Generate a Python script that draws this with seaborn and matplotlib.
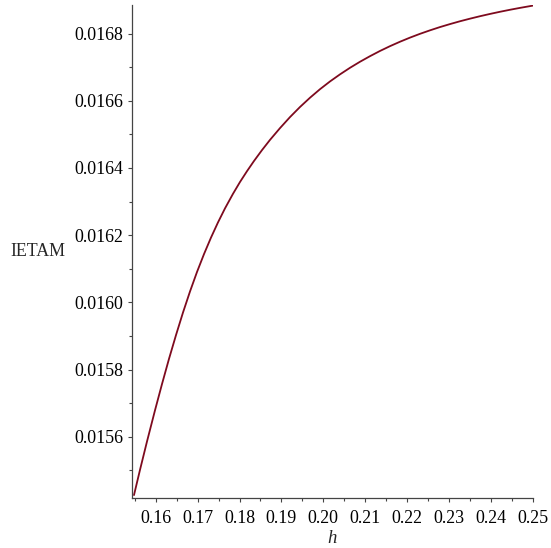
import matplotlib
matplotlib.use("Agg")
import matplotlib.pyplot as plt
from matplotlib.ticker import MultipleLocator, FormatStrFormatter
import pandas as pd
import seaborn as sns

# IETAM as a function of h
h = [0.15482, 0.15625, 0.15792, 0.15983, 0.16150, 0.16317, 0.16485, 0.16652,
     0.16819, 0.16986, 0.17153, 0.17320, 0.17487, 0.17654, 0.17845, 0.18012,
     0.18179, 0.18346, 0.18537, 0.18728, 0.18967, 0.19205, 0.19444, 0.19683,
     0.19921, 0.20160, 0.20399, 0.20637, 0.20876, 0.21115, 0.21353, 0.21592,
     0.21831, 0.22069, 0.22308, 0.22547, 0.22785, 0.23024, 0.23263, 0.23501,
     0.23740, 0.23979, 0.24217, 0.24456, 0.24695, 0.25000]
ietam = [0.0154266, 0.0155015, 0.0155859, 0.0156787, 0.0157568, 0.0158318,
         0.0159029, 0.0159701, 0.0160326, 0.0160906, 0.0161438, 0.0161929,
         0.0162381, 0.0162798, 0.0163232, 0.0163583, 0.0163905, 0.0164208,
         0.0164532, 0.0164836, 0.0165187, 0.0165514, 0.0165815, 0.0166091,
         0.0166344, 0.0166575, 0.0166786, 0.0166981, 0.0167161, 0.0167327,
         0.0167482, 0.0167625, 0.0167757, 0.0167879, 0.0167992, 0.0168096,
         0.0168193, 0.0168282, 0.0168366, 0.0168443, 0.0168516, 0.0168584,
         0.0168648, 0.0168708, 0.0168764, 0.0168831]

x_ticks = [0.16, 0.17, 0.18, 0.19, 0.20, 0.21, 0.22, 0.23, 0.24, 0.25]
y_ticks = [0.0156, 0.0158, 0.0160, 0.0162, 0.0164, 0.0166, 0.0168]

df = pd.DataFrame({"h": h, "IETAM": ietam})

sns.set_style("ticks")
plt.rcParams["font.family"] = ["Liberation Serif", "DejaVu Serif"]
plt.rcParams["mathtext.fontset"] = "custom"
plt.rcParams["mathtext.it"] = "Liberation Serif:italic"

fig = plt.figure(figsize=(5.51, 5.48), dpi=100)
ax = fig.add_axes([0.239, 0.0907, 0.728, 0.9002])

sns.lineplot(data=df, x="h", y="IETAM", ax=ax, color="#7E0A1E", linewidth=1.3,
             estimator=None, sort=True)

ax.set_xlim(0.15427, 0.25)
ax.set_ylim(0.015417, 0.016885)

ax.set_xticks(x_ticks)
ax.set_yticks(y_ticks)
ax.xaxis.set_major_formatter(FormatStrFormatter("%.2f"))
ax.yaxis.set_major_formatter(FormatStrFormatter("%.4f"))
ax.xaxis.set_minor_locator(MultipleLocator(0.005))
ax.yaxis.set_minor_locator(MultipleLocator(0.0001))

ax.tick_params(which="major", direction="out", length=3.2, width=0.8,
               color="#444444", labelsize=12.9, labelcolor="black", pad=3)
ax.tick_params(which="minor", direction="out", length=2.0, width=0.8,
               color="#444444")
ax.tick_params(axis="x", which="major", pad=5)

for side in ("top", "right"):
    ax.spines[side].set_visible(False)
for side in ("left", "bottom"):
    ax.spines[side].set_color("#444444")
    ax.spines[side].set_linewidth(0.9)

ax.set_xlabel(r"$h$", fontsize=13.5)
ax.xaxis.set_label_coords(0.5, -0.0805)
ax.xaxis.label.set_va("center")

ax.set_ylabel("IETAM", fontsize=12.9, rotation=0, ha="right", va="center")
ax.yaxis.set_label_coords(-0.166, 0.501)

fig.savefig("out.png", dpi=100)
